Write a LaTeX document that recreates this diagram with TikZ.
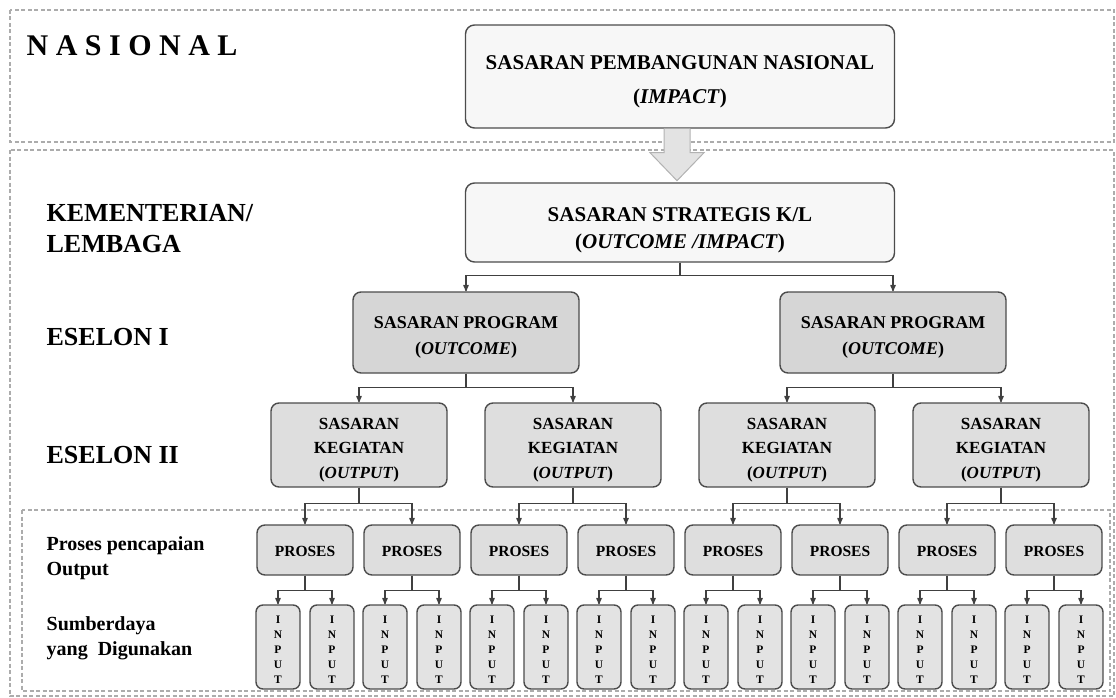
\documentclass[tikz,border=0pt]{standalone}
\usepackage{fontspec}
\setmainfont{Liberation Serif}
\usetikzlibrary{arrows,shapes}

\tikzset{
  zone/.style={-,draw=gray!65,dash pattern=on 4pt off 2.5pt,line width=1.2pt},
  textdrop/.style={execute at begin node={\rule{0pt}{#1}}},
  topbox/.style={draw=black!70,line width=1.4pt,rounded corners=9pt,fill=gray!6,
    align=center,minimum width=429pt},
  graybox/.style={draw=black!70,line width=1.4pt,rounded corners=8pt,fill=gray!26,align=center},
  progbox/.style={graybox,fill=gray!32,font=\bfseries\fontsize{18}{26}\selectfont,textdrop=48pt,
    minimum width=226pt,minimum height=81pt},
  kegbox/.style={graybox,minimum width=176pt,minimum height=84pt,
    font=\bfseries\fontsize{17}{24.5}\selectfont,textdrop=70pt},
  prosbox/.style={graybox,minimum width=96pt,minimum height=50pt,
    font=\bfseries\fontsize{15.5}{18}\selectfont,textdrop=14pt},
  inbox/.style={graybox,fill=gray!22,minimum width=44pt,minimum height=84pt,
    rounded corners=7pt,inner sep=0pt,font=\bfseries\fontsize{11.5}{15}\selectfont,textdrop=72pt},
  tier/.style={anchor=west,align=left,inner sep=0pt,font=\bfseries\fontsize{26}{31}\selectfont},
  subtier/.style={anchor=west,align=left,inner sep=0pt,font=\bfseries\fontsize{20}{25}\selectfont},
  bigarrow/.style={-,draw=gray!60,line width=1pt,fill=gray!22},
  branch/.style={to path={(\tikztostart.south) -- ++(0,-#1) -| (\tikztotarget.north)}},
  branch/.default=14pt
}

\begin{document}
\begin{tikzpicture}[->,>=stealth',x=1pt,y=-1pt,line width=1.3pt,draw=black!75,
        node distance=107pt]
  \useasboundingbox (0,0) rectangle (1116,698);

  % levels
  \draw[zone] (10,10) rectangle (1114,142);
  \draw[zone] (10,150) rectangle (1114,696);
  \draw[zone] (22,510) rectangle (1110,691);

  \node[tier,font=\bfseries\fontsize{30}{31}\selectfont] (nasl) at (26,46)
    {\addfontfeature{LetterSpace=25}NASIONAL};
  \node[tier] (kem) at (46,229) {KEMENTERIAN/\\LEMBAGA};
  \node[tier] (es1) at (46,337) {ESELON I};
  \node[tier] (es2) at (46,455) {ESELON II};
  \node[subtier] (proc) at (46,558) {Proses pencapaian\\Output};
  \node[subtier] (res) at (46,638) {Sumberdaya\\yang~~Digunakan};

  % sasaran
  \node[topbox,minimum height=103pt,font=\bfseries\fontsize{21}{34}\selectfont,textdrop=58pt]
    (nas) at (680,76.5) {SASARAN PEMBANGUNAN NASIONAL\\(\textit{IMPACT})};
  \node[topbox,minimum height=79pt,font=\bfseries\fontsize{21}{27}\selectfont,textdrop=57pt]
    (kl) at (680,222.5) {SASARAN STRATEGIS K/L\\(\textit{OUTCOME /IMPACT})};
  \draw[bigarrow,shift={(nas.south)}] (-16,0) -- (-16,24) -- (-30,24) -- (-3,52)
    -- (24,24) -- (10,24) -- (10,0);

  \node[progbox] (prog1) at (466,332.5) {SASARAN PROGRAM\\(\textit{OUTCOME})};
  \node[progbox] (prog2) [right of=prog1,node distance=427pt] {SASARAN PROGRAM\\(\textit{OUTCOME})};

  \node[kegbox] (keg1) at (359,445) {SASARAN\\KEGIATAN\\(\textit{OUTPUT})};
  \node[kegbox] (keg2) [right of=keg1,node distance=214pt] {SASARAN\\KEGIATAN\\(\textit{OUTPUT})};
  \node[kegbox] (keg3) [right of=keg2,node distance=214pt] {SASARAN\\KEGIATAN\\(\textit{OUTPUT})};
  \node[kegbox] (keg4) [right of=keg3,node distance=214pt] {SASARAN\\KEGIATAN\\(\textit{OUTPUT})};

  % proses
  \node[prosbox] (pro1) at (305,550) {PROSES};
  \node[prosbox] (pro2) [right of=pro1] {PROSES};
  \node[prosbox] (pro3) [right of=pro2] {PROSES};
  \node[prosbox] (pro4) [right of=pro3] {PROSES};
  \node[prosbox] (pro5) [right of=pro4] {PROSES};
  \node[prosbox] (pro6) [right of=pro5] {PROSES};
  \node[prosbox] (pro7) [right of=pro6] {PROSES};
  \node[prosbox] (pro8) [right of=pro7] {PROSES};

  % input
  \node[inbox] (in1a) [below of=pro1,node distance=97pt,xshift=-27pt] {I\\N\\P\\U\\T};
  \node[inbox] (in1b) [below of=pro1,node distance=97pt,xshift=27pt] {I\\N\\P\\U\\T};
  \node[inbox] (in2a) [below of=pro2,node distance=97pt,xshift=-27pt] {I\\N\\P\\U\\T};
  \node[inbox] (in2b) [below of=pro2,node distance=97pt,xshift=27pt] {I\\N\\P\\U\\T};
  \node[inbox] (in3a) [below of=pro3,node distance=97pt,xshift=-27pt] {I\\N\\P\\U\\T};
  \node[inbox] (in3b) [below of=pro3,node distance=97pt,xshift=27pt] {I\\N\\P\\U\\T};
  \node[inbox] (in4a) [below of=pro4,node distance=97pt,xshift=-27pt] {I\\N\\P\\U\\T};
  \node[inbox] (in4b) [below of=pro4,node distance=97pt,xshift=27pt] {I\\N\\P\\U\\T};
  \node[inbox] (in5a) [below of=pro5,node distance=97pt,xshift=-27pt] {I\\N\\P\\U\\T};
  \node[inbox] (in5b) [below of=pro5,node distance=97pt,xshift=27pt] {I\\N\\P\\U\\T};
  \node[inbox] (in6a) [below of=pro6,node distance=97pt,xshift=-27pt] {I\\N\\P\\U\\T};
  \node[inbox] (in6b) [below of=pro6,node distance=97pt,xshift=27pt] {I\\N\\P\\U\\T};
  \node[inbox] (in7a) [below of=pro7,node distance=97pt,xshift=-27pt] {I\\N\\P\\U\\T};
  \node[inbox] (in7b) [below of=pro7,node distance=97pt,xshift=27pt] {I\\N\\P\\U\\T};
  \node[inbox] (in8a) [below of=pro8,node distance=97pt,xshift=-27pt] {I\\N\\P\\U\\T};
  \node[inbox] (in8b) [below of=pro8,node distance=97pt,xshift=27pt] {I\\N\\P\\U\\T};

  \path (kl) edge[branch=13pt] (prog1)
        (kl) edge[branch=13pt] (prog2)
        (prog1) edge[branch] (keg1)
        (prog1) edge[branch] (keg2)
        (prog2) edge[branch] (keg3)
        (prog2) edge[branch] (keg4)
        (keg1) edge[branch=16pt] (pro1)
        (keg1) edge[branch=16pt] (pro2)
        (keg2) edge[branch=16pt] (pro3)
        (keg2) edge[branch=16pt] (pro4)
        (keg3) edge[branch=16pt] (pro5)
        (keg3) edge[branch=16pt] (pro6)
        (keg4) edge[branch=16pt] (pro7)
        (keg4) edge[branch=16pt] (pro8);

  \path (pro1) edge[branch=15pt] (in1a) (pro1) edge[branch=15pt] (in1b)
        (pro2) edge[branch=15pt] (in2a) (pro2) edge[branch=15pt] (in2b)
        (pro3) edge[branch=15pt] (in3a) (pro3) edge[branch=15pt] (in3b)
        (pro4) edge[branch=15pt] (in4a) (pro4) edge[branch=15pt] (in4b)
        (pro5) edge[branch=15pt] (in5a) (pro5) edge[branch=15pt] (in5b)
        (pro6) edge[branch=15pt] (in6a) (pro6) edge[branch=15pt] (in6b)
        (pro7) edge[branch=15pt] (in7a) (pro7) edge[branch=15pt] (in7b)
        (pro8) edge[branch=15pt] (in8a) (pro8) edge[branch=15pt] (in8b);

\end{tikzpicture}
\end{document}
